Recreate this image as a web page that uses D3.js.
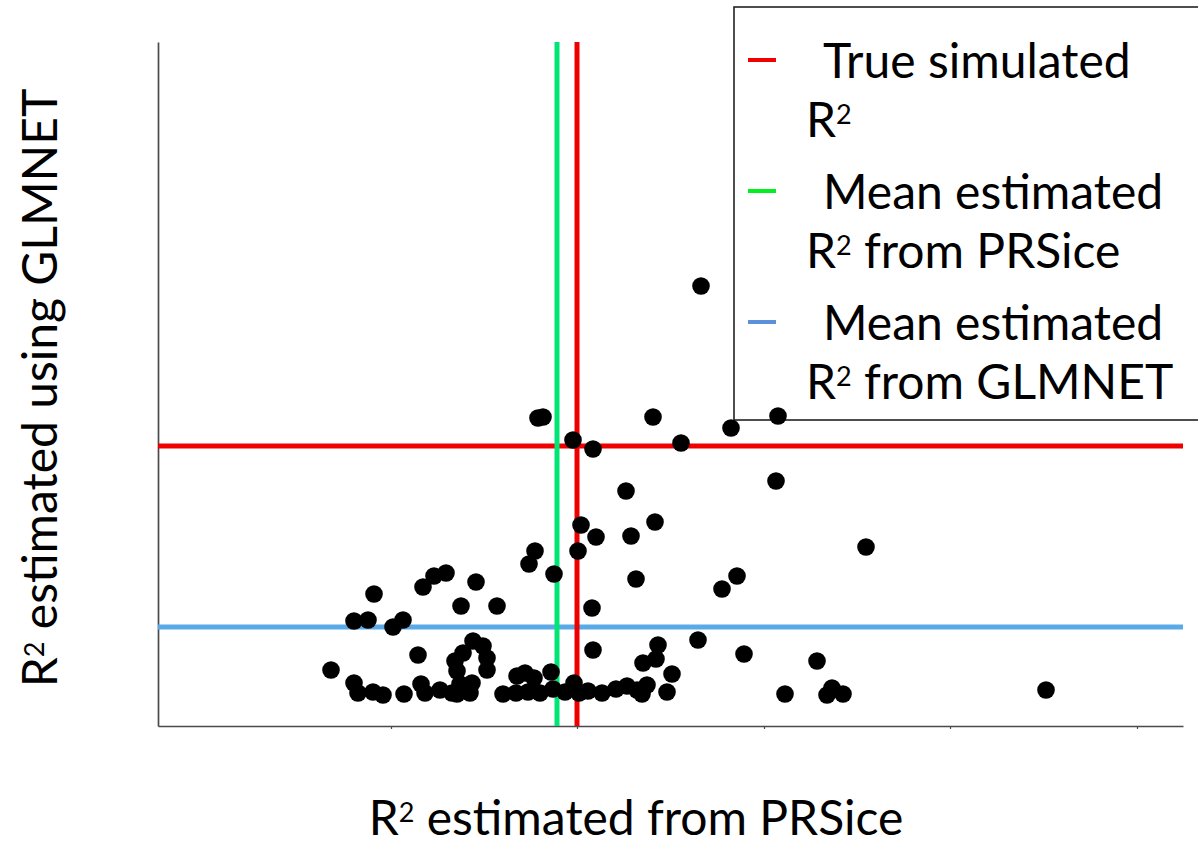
<!DOCTYPE html>
<html>
<head>
<meta charset="utf-8">
<script src="https://cdn.jsdelivr.net/npm/d3@7"></script>
<style>
  html, body { margin: 0; padding: 0; background: #ffffff; }
  svg { display: block; }
  text { font-family: Lato, "Open Sans", "DejaVu Sans", sans-serif; fill: #000; }
</style>
</head>
<body>
<svg id="chart" width="1198" height="845"></svg>
<script>
// R² from PRSice (x) and from GLMNET (y), one pair per simulated replicate
const prsiceR2 = [
  0.0543, 0.0380, 0.0385, 0.0495, 0.0573, 0.0620, 0.0415, 0.0435, 0.0523, 0.0618,
  0.0468, 0.0423, 0.0497, 0.0438, 0.0473, 0.0708, 0.0377, 0.0371, 0.0396, 0.0420,
  0.0478, 0.0579, 0.0564, 0.0434, 0.0216, 0.0265, 0.0276, 0.0288, 0.0318, 0.0303,
  0.0339, 0.0196, 0.0210, 0.0235, 0.0245, 0.0173, 0.0260, 0.0196, 0.0200, 0.0215,
  0.0225, 0.0246, 0.0263, 0.0267, 0.0282, 0.0294, 0.0297, 0.0299, 0.0305, 0.0315,
  0.0325, 0.0329, 0.0329, 0.0314, 0.0312, 0.0299, 0.0302, 0.0345, 0.0359, 0.0367,
  0.0376, 0.0358, 0.0370, 0.0382, 0.0393, 0.0395, 0.0407, 0.0416, 0.0421, 0.0430,
  0.0435, 0.0444, 0.0458, 0.0469, 0.0479, 0.0489, 0.0484, 0.0485, 0.0498, 0.0500,
  0.0514, 0.0509, 0.0540, 0.0586, 0.0659, 0.0627, 0.0674, 0.0669, 0.0685, 0.0888
];
const glmnetR2 = [
  0.0440, 0.0308, 0.0309, 0.0309, 0.0298, 0.0310, 0.0286, 0.0277, 0.0283, 0.0245,
  0.0235, 0.0201, 0.0204, 0.0189, 0.0190, 0.0179, 0.0175, 0.0162, 0.0152, 0.0175,
  0.0147, 0.0150, 0.0137, 0.0118, 0.0132, 0.0139, 0.0150, 0.0153, 0.0144, 0.0120,
  0.0120, 0.0105, 0.0106, 0.0099, 0.0106, 0.0056, 0.0071, 0.0043, 0.0033, 0.0034,
  0.0031, 0.0032, 0.0042, 0.0033, 0.0036, 0.0033, 0.0065, 0.0055, 0.0073, 0.0085,
  0.0080, 0.0068, 0.0056, 0.0043, 0.0033, 0.0032, 0.0042, 0.0032, 0.0050, 0.0053,
  0.0048, 0.0033, 0.0034, 0.0033, 0.0054, 0.0037, 0.0034, 0.0043, 0.0033, 0.0035,
  0.0076, 0.0033, 0.0037, 0.0040, 0.0036, 0.0041, 0.0032, 0.0063, 0.0067, 0.0081,
  0.0052, 0.0034, 0.0086, 0.0072, 0.0065, 0.0032, 0.0038, 0.0031, 0.0032, 0.0036
];

// Reference values
const trueR2X = 0.0419;      // true simulated R² on the PRSice axis
const trueR2Y = 0.0280;      // true simulated R² on the GLMNET axis
const meanPrsiceR2 = 0.0399; // mean of the PRSice estimates
const meanGlmnetR2 = 0.0099; // mean of the GLMNET estimates

const xDomain = [0, 0.1025];
const yDomain = [0, 0.0684];
const xTickValues = [0.0233, 0.0419, 0.0606, 0.0792, 0.0979];

const legendEntries = [
  ["True simulated", ""],
  ["Mean estimated", " from PRSice"],
  ["Mean estimated", " from GLMNET"]
];

// ---- styles ----
const COLORS = {
  red: "#ee0000",
  green: "#00e676",
  blue: "#5aaae8",
  legendRed: "#f20000",
  legendGreen: "#00ee22",
  legendBlue: "#5b90da",
  axis: "#4a4a4a"
};
const FONT_SIZE = 48;
const SUP_SIZE = 27;
const SUP_RISE = 13;

const svg = d3.select("#chart");
const margin = { left: 158, right: 15, top: 42, bottom: 119 };
const W = 1198, H = 845;

const x = d3.scaleLinear().domain(xDomain).range([margin.left, W - margin.right]);
const y = d3.scaleLinear().domain(yDomain).range([H - margin.bottom, margin.top]);

// Axes (no labels, barely visible ticks on x)
const gx = svg.append("g")
  .attr("transform", `translate(0,${y(0)})`)
  .call(d3.axisBottom(x).tickValues(xTickValues).tickSize(3).tickSizeOuter(0).tickFormat(""));
const gy = svg.append("g")
  .attr("transform", `translate(${x(0)},0)`)
  .call(d3.axisLeft(y).tickValues([]).tickSizeOuter(0));
[gx, gy].forEach(g => {
  g.selectAll("path.domain").attr("stroke", COLORS.axis).attr("stroke-width", 1.7);
  g.selectAll(".tick line").attr("stroke", COLORS.axis).attr("stroke-width", 1.2);
});

// Reference lines
const refs = svg.append("g").attr("stroke-width", 5);
refs.append("line")
  .attr("x1", x(xDomain[0])).attr("x2", x(xDomain[1]))
  .attr("y1", y(trueR2Y)).attr("y2", y(trueR2Y))
  .attr("stroke", COLORS.red);
refs.append("line")
  .attr("x1", x(xDomain[0])).attr("x2", x(xDomain[1]))
  .attr("y1", y(meanGlmnetR2)).attr("y2", y(meanGlmnetR2))
  .attr("stroke", COLORS.blue);
refs.append("line")
  .attr("x1", x(meanPrsiceR2)).attr("x2", x(meanPrsiceR2))
  .attr("y1", y(yDomain[1])).attr("y2", y(yDomain[0]))
  .attr("stroke", COLORS.green);
refs.append("line")
  .attr("x1", x(trueR2X)).attr("x2", x(trueR2X))
  .attr("y1", y(yDomain[1])).attr("y2", y(yDomain[0]))
  .attr("stroke", COLORS.red);

// Legend box
const legend = svg.append("g");
legend.append("rect")
  .attr("x", 734).attr("y", 7)
  .attr("width", 500).attr("height", 413)
  .attr("fill", "#fff").attr("stroke", "#222").attr("stroke-width", 1.6);

const legendColors = [COLORS.legendRed, COLORS.legendGreen, COLORS.legendBlue];

// "R²" followed by the rest of a label, superscript drawn as a raised tspan
function r2Text(sel, rest) {
  sel.append("tspan").text("R");
  sel.append("tspan").attr("font-size", SUP_SIZE).attr("dy", -SUP_RISE).text("2");
  sel.append("tspan").attr("dy", SUP_RISE).style("white-space", "pre").text(rest);
}

legendEntries.forEach((e, i) => {
  const base = 78 + i * 131;
  legend.append("line")
    .attr("x1", 748).attr("x2", 776)
    .attr("y1", 60 + i * 131).attr("y2", 60 + i * 131)
    .attr("stroke", legendColors[i]).attr("stroke-width", 4);
  legend.append("text")
    .attr("x", 823).attr("y", base)
    .attr("font-size", FONT_SIZE)
    .text(e[0]);
  const t2 = legend.append("text")
    .attr("x", 806).attr("y", base + 59)
    .attr("font-size", FONT_SIZE);
  r2Text(t2, e[1]);
});

// Points
svg.append("g")
  .selectAll("circle")
  .data(d3.zip(prsiceR2, glmnetR2))
  .join("circle")
  .attr("cx", d => x(d[0]))
  .attr("cy", d => y(d[1]))
  .attr("r", 8.8)
  .attr("fill", "#000");

// Axis titles
const xt = svg.append("text")
  .attr("x", 636).attr("y", 835)
  .attr("text-anchor", "middle")
  .attr("font-size", FONT_SIZE);
r2Text(xt, " estimated from PRSice");

const yt = svg.append("text")
  .attr("transform", "translate(57,388) rotate(-90)")
  .attr("text-anchor", "middle")
  .attr("font-size", FONT_SIZE);
r2Text(yt, " estimated using GLMNET");
</script>
</body>
</html>
